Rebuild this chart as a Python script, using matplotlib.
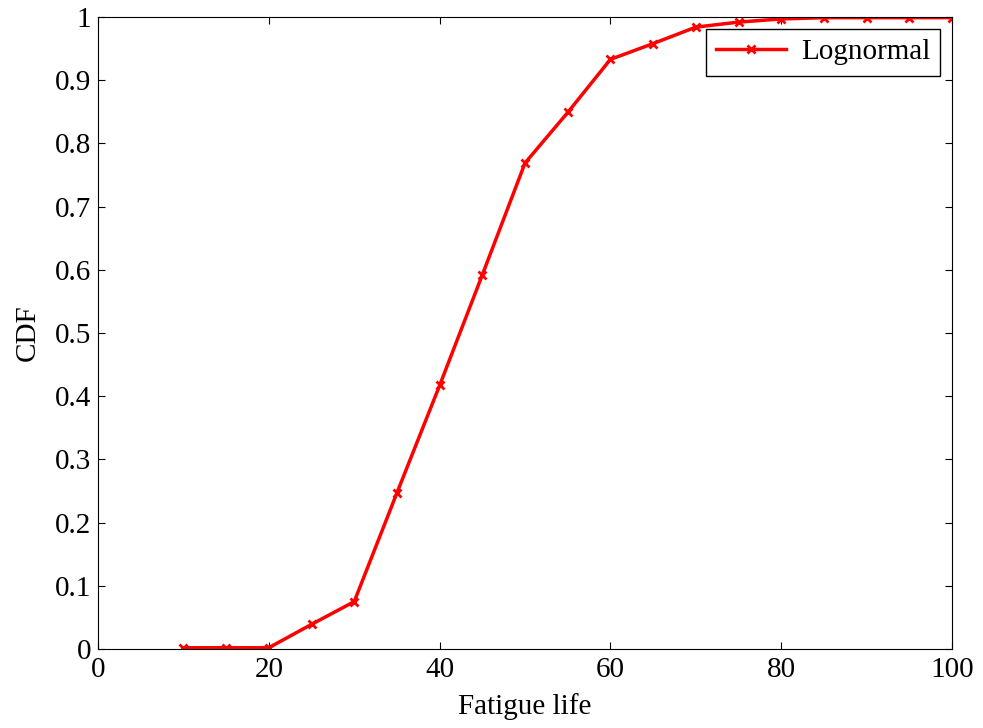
import matplotlib
matplotlib.use('Agg')
import matplotlib.pyplot as plt

plt.rcParams['font.family'] = ['Liberation Serif', 'DejaVu Serif']

# Fatigue life vs CDF (lognormal)
life = [10, 15, 20, 25, 30, 35, 40, 45, 50, 55, 60, 65, 70, 75, 80, 85, 90, 95, 100]
cdf = [0.002, 0.002, 0.002, 0.039, 0.075, 0.247, 0.417, 0.592, 0.769, 0.849,
       0.933, 0.958, 0.984, 0.992, 0.997, 0.999, 0.999, 0.999, 0.999]

fig = plt.figure(figsize=(9.83, 7.28), dpi=100)
ax = fig.add_axes([0.0997, 0.1085, 0.8688, 0.8681])

ax.plot(life, cdf, color='red', linewidth=2.5, marker='x', markersize=6,
        markeredgewidth=2, label='Lognormal')

ax.set_xlim(0, 100)
ax.set_ylim(0, 1)
ax.set_xticks(range(0, 101, 20))
ax.set_yticks([i / 10 for i in range(11)])
ax.set_yticklabels(['0', '0.1', '0.2', '0.3', '0.4', '0.5', '0.6', '0.7', '0.8', '0.9', '1'])
ax.tick_params(direction='in', top=True, right=True, labelsize=21, length=5)
ax.tick_params(axis='x', pad=6)
ax.tick_params(axis='y', pad=5)
ax.set_xlabel('Fatigue life', fontsize=21, labelpad=7)
ax.set_ylabel('CDF', fontsize=21, labelpad=10)

ax.legend(loc='upper right', fontsize=21, fancybox=False, edgecolor='black',
          framealpha=1, borderaxespad=0.4, handlelength=2.4, borderpad=0.35,
          handletextpad=0.5)

fig.savefig('out.png', dpi=100)
